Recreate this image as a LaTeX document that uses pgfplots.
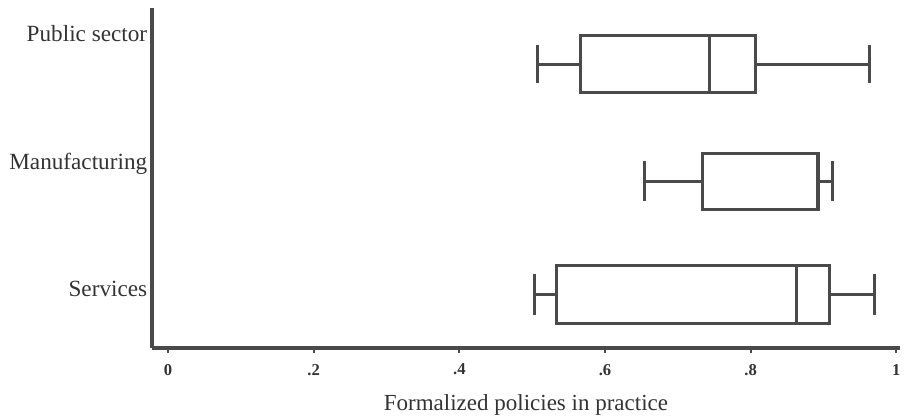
\documentclass[border=0pt]{standalone}
\usepackage{pgfplots}
\pgfplotsset{compat=1.18}
\usepgfplotslibrary{statistics}
\usepackage{fontspec}
\setmainfont{Liberation Serif}
\definecolor{ink}{HTML}{4A4A4A}
\definecolor{txt}{HTML}{333333}
\begin{document}
\begin{tikzpicture}
\useasboundingbox (-76pt,-35pt) rectangle (376pt,174pt);
\begin{axis}[
  scale only axis,
  width=374pt, height=170pt,
  xmin=-0.022, xmax=1.005,
  ymin=0, ymax=340,
  axis lines=left,
  axis line style={ink, line width=1.6pt, -},
  xtick={0,0.2,0.4,0.6,0.8,1},
  xticklabels={0,.2,.4,.6,.8,1},
  xtick style={ink, line width=0.9pt},
  tick align=outside,
  major tick length=2.5pt,
  xticklabel style={font=\fontsize{8.3}{9}\selectfont\bfseries, text=txt, yshift=-2pt},
  ytick={314,184.5,59.5},
  yticklabels={Public sector,Manufacturing,Services},
  ytick style={draw=none},
  yticklabel style={font=\fontsize{11.6}{13}\selectfont, text=txt, inner sep=0pt, xshift=0.3pt},
  xlabel={Formalized policies in practice},
  xlabel style={font=\fontsize{11.5}{13}\selectfont, text=txt, at={(axis description cs:0.5,0)}, anchor=center, yshift=-28.5pt},
  clip=false,
]
\addplot+[no marks, draw=ink, line width=1.5pt, solid,
  boxplot prepared={lower whisker=0.507, lower quartile=0.566, median=0.743,
    upper quartile=0.806, upper whisker=0.963,
    draw position=284, box extend=57, whisker extend=38}] coordinates {};
\addplot+[no marks, draw=ink, line width=1.5pt, solid,
  boxplot prepared={lower whisker=0.654, lower quartile=0.734, median=0.892,
    upper quartile=0.893, upper whisker=0.912,
    draw position=167, box extend=56, whisker extend=40}] coordinates {};
\addplot+[no marks, draw=ink, line width=1.5pt, solid,
  boxplot prepared={lower whisker=0.503, lower quartile=0.534, median=0.863,
    upper quartile=0.908, upper whisker=0.970,
    draw position=54, box extend=58, whisker extend=41}] coordinates {};
\end{axis}
\end{tikzpicture}
\end{document}
